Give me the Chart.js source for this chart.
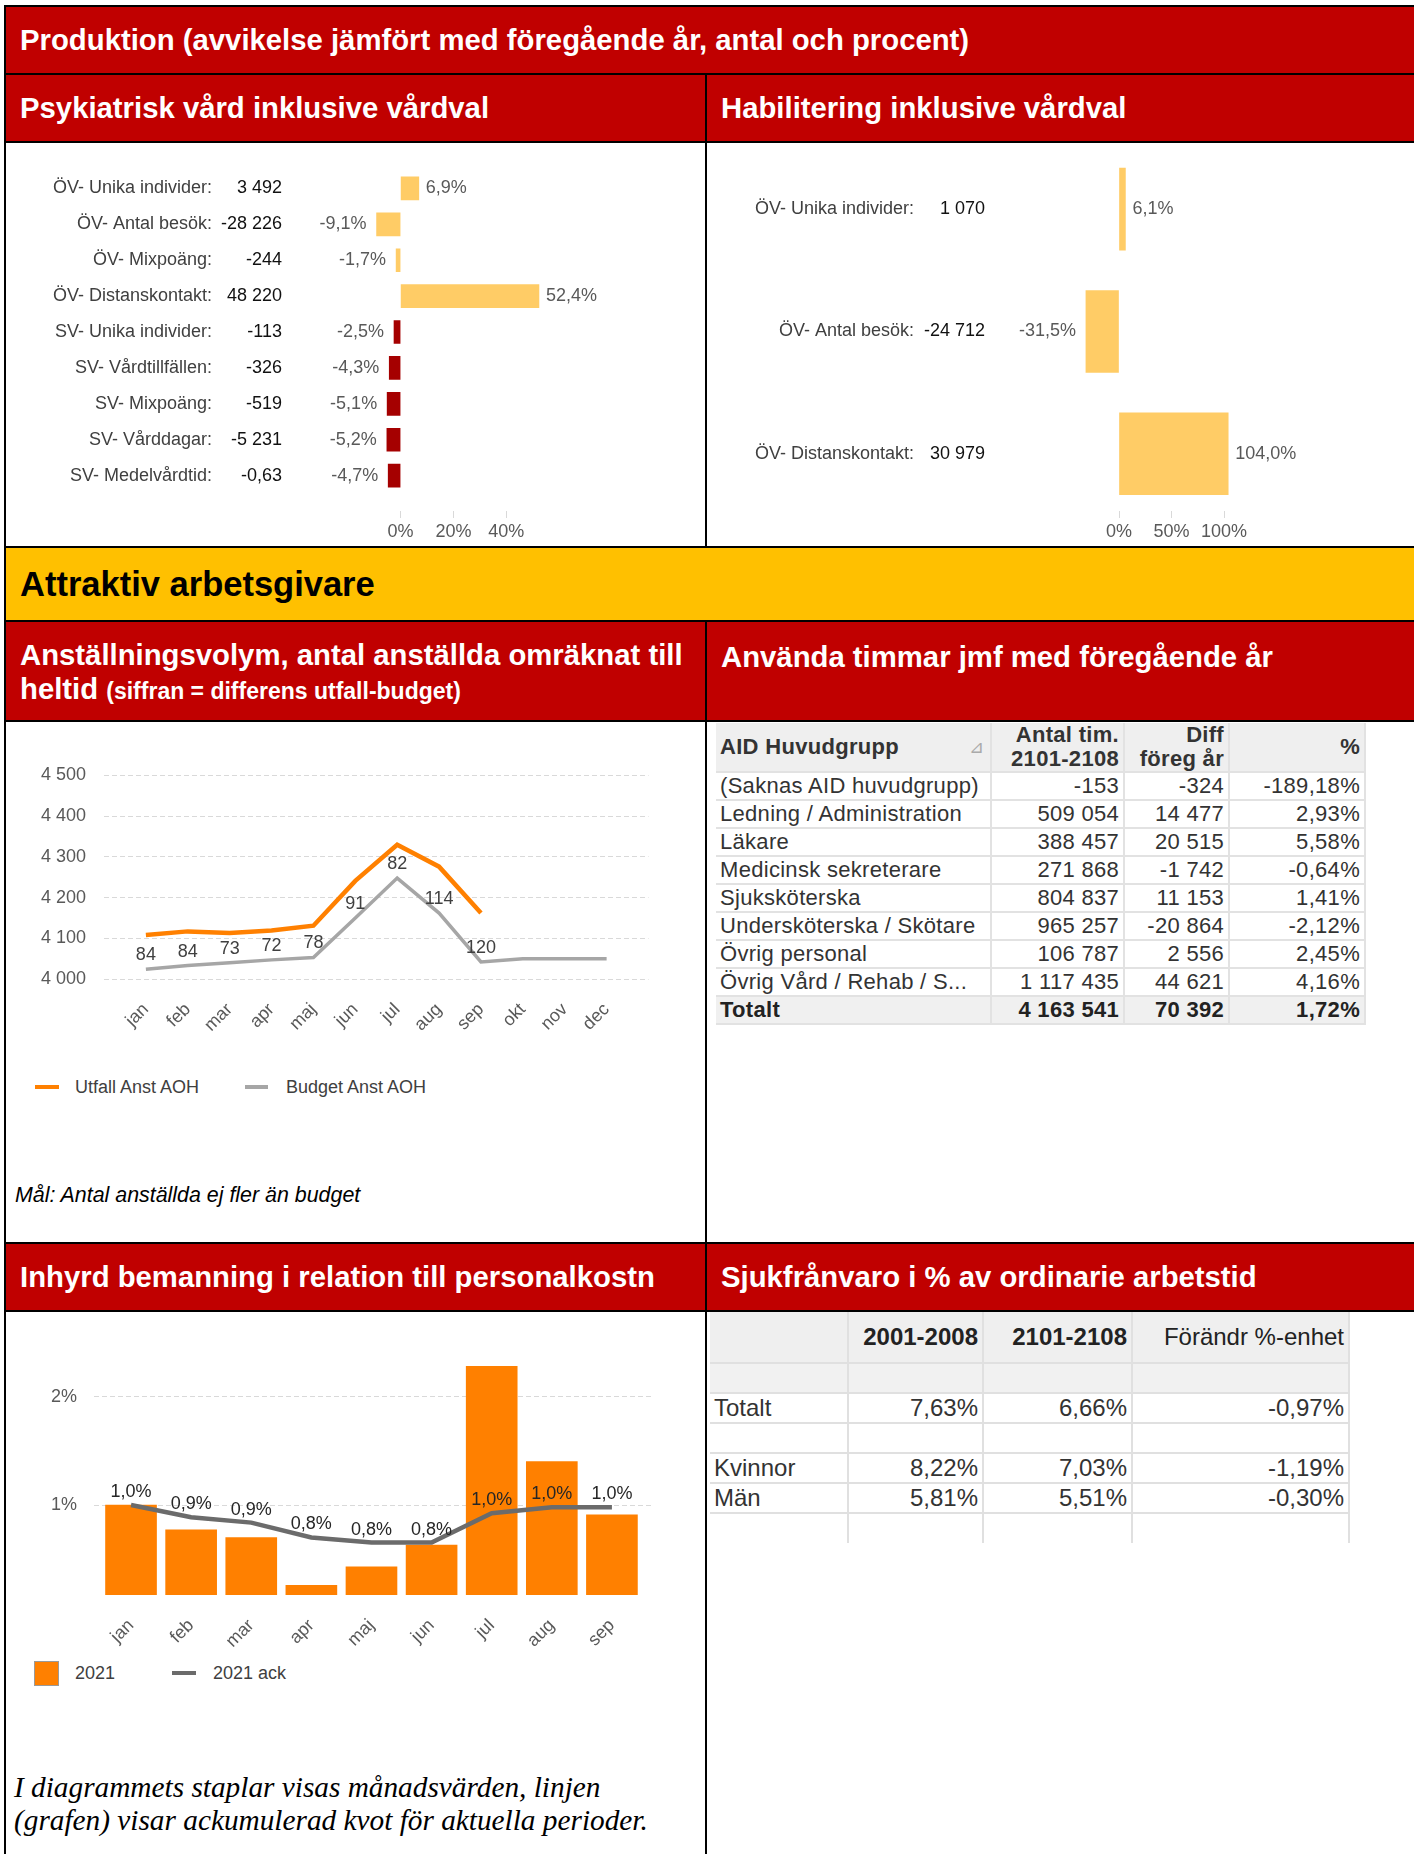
<!DOCTYPE html>
<html lang="sv">
<head>
<meta charset="utf-8">
<script src="https://cdn.jsdelivr.net/npm/chart.js@4.4.0/dist/chart.umd.min.js"></script>
<style>
body { margin: 0; width: 1414px; height: 1854px; position: relative; overflow: hidden; background: #fff; font-family: 'Liberation Sans', Arial, sans-serif; }
.abs { position: absolute; box-sizing: border-box; }
.ln { position: absolute; background: #000; }
.red { position: absolute; background: #c00000; color: #fff; font-weight: bold; font-size: 29.3px; line-height: 34px; padding-left: 14px; display: flex; align-items: center; box-sizing: border-box; white-space: nowrap; }
.yel { position: absolute; background: #ffc000; color: #000; font-weight: bold; font-size: 34.5px; padding-left: 14px; display: flex; align-items: center; box-sizing: border-box; }
canvas { position: absolute; }
.leg { position: absolute; font-size: 18px; color: #404040; line-height: 22px; white-space: nowrap; }
table { position: absolute; border-collapse: collapse; table-layout: fixed; color: #333; }
td, th { padding: 0 4px; white-space: nowrap; overflow: hidden; box-sizing: border-box; }
.t1 { font-size: 22px; letter-spacing: 0.3px; }
.t1 td, .t1 th { border-bottom: 2px solid #e2e2e2; border-right: 2px solid #e2e2e2; text-align: right; }
.t1 th { background: #efefef; line-height: 24px; font-weight: bold; height: 49px; }
.t1 td { height: 28px; line-height: 26px; }
.t1 td:first-child, .t1 th:first-child { text-align: left; }
.t1 tr.tot td { background: #f0f0f0; font-weight: bold; color: #222; }
.t2 { font-size: 24px; }
.t2 td, .t2 th { border-right: 2px solid #e0e0e0; border-bottom: 2px solid #e0e0e0; text-align: right; }
.t2 th { background: #efefef; height: 51px; color: #222; }
.t2 tr.grey td { background: #f1f1f1; }
.t2 td { height: 30px; line-height: 28px; }
.t2 td:first-child { text-align: left; }
.t2 tr.last td { border-bottom: none; }
</style>
</head>
<body>

<!-- frames -->
<div class="red" style="left:6px;top:7px;width:1408px;height:66px;">Produktion (avvikelse jämfört med föregående år, antal och procent)</div>
<div class="red" style="left:6px;top:75px;width:699px;height:66px;">Psykiatrisk vård inklusive vårdval</div>
<div class="red" style="left:707px;top:75px;width:707px;height:66px;">Habilitering inklusive vårdval</div>
<div class="yel" style="left:6px;top:548px;width:1408px;height:72px;">Attraktiv arbetsgivare</div>
<div class="red" style="left:6px;top:622px;width:699px;height:98px;display:block;padding-top:16px;">Anställningsvolym, antal anställda omräknat till<br>heltid <span style="font-size:23px;">(siffran = differens utfall-budget)</span></div>
<div class="red" style="left:707px;top:622px;width:707px;height:98px;display:block;padding-top:18px;">Använda timmar jmf med föregående år</div>
<div class="red" style="left:6px;top:1244px;width:699px;height:66px;">Inhyrd bemanning i relation till personalkostn</div>
<div class="red" style="left:707px;top:1244px;width:707px;height:66px;">Sjukfrånvaro i % av ordinarie arbetstid</div>

<div class="ln" style="left:4px;top:5px;width:1410px;height:2px;"></div>
<div class="ln" style="left:4px;top:5px;width:2px;height:1849px;"></div>
<div class="ln" style="left:4px;top:73px;width:1410px;height:2px;"></div>
<div class="ln" style="left:4px;top:141px;width:1410px;height:2px;"></div>
<div class="ln" style="left:705px;top:75px;width:2px;height:472px;"></div>
<div class="ln" style="left:4px;top:546px;width:1410px;height:2px;"></div>
<div class="ln" style="left:4px;top:620px;width:1410px;height:2px;"></div>
<div class="ln" style="left:4px;top:720px;width:1410px;height:2px;"></div>
<div class="ln" style="left:705px;top:622px;width:2px;height:1232px;"></div>
<div class="ln" style="left:4px;top:1242px;width:1410px;height:2px;"></div>
<div class="ln" style="left:4px;top:1310px;width:1410px;height:2px;"></div>

<canvas id="psyk" width="699" height="404" style="left:6px;top:143px;"></canvas>
<canvas id="hab" width="707" height="404" style="left:707px;top:143px;"></canvas>

<canvas id="volym" width="699" height="340" style="left:6px;top:722px;"></canvas>
<div id="volymLegend"></div>
<div class="leg" style="left:15px;top:1184px;font-size:21.4px;font-style:italic;color:#000;">Mål: Antal anställda ej fler än budget</div>

<table class="t1" id="timmar" style="left:716px;top:723px;width:649px;"></table>

<canvas id="inhyrd" width="699" height="340" style="left:6px;top:1312px;"></canvas>
<div id="inhyrdLegend"></div>
<div class="leg" style="left:14px;top:1771px;font-family:'Liberation Serif','Times New Roman',serif;font-style:italic;font-size:29.3px;line-height:33px;color:#000;">I diagrammets staplar visas månadsvärden, linjen<br>(grafen) visar ackumulerad kvot för aktuella perioder.</div>

<table class="t2" id="sjuk" style="left:710px;top:1312px;width:639px;"></table>

<script>
// Produktion
const psykNames = ['ÖV- Unika individer:', 'ÖV- Antal besök:', 'ÖV- Mixpoäng:', 'ÖV- Distanskontakt:', 'SV- Unika individer:', 'SV- Vårdtillfällen:', 'SV- Mixpoäng:', 'SV- Vårddagar:', 'SV- Medelvårdtid:'];
const psykCounts = [3492, -28226, -244, 48220, -113, -326, -519, -5231, -0.63];
const psykPct = [6.9, -9.1, -1.7, 52.4, -2.5, -4.3, -5.1, -5.2, -4.7];
const psykTicks = [0, 20, 40];

const habNames = ['ÖV- Unika individer:', 'ÖV- Antal besök:', 'ÖV- Distanskontakt:'];
const habCounts = [1070, -24712, 30979];
const habPct = [6.1, -31.5, 104.0];
const habTicks = [0, 50, 100];

// Anställningsvolym
const months = ['jan', 'feb', 'mar', 'apr', 'maj', 'jun', 'jul', 'aug', 'sep', 'okt', 'nov', 'dec'];
const utfall = [4108, 4117, 4113, 4119, 4131, 4241, 4330, 4276, 4162];
const budget = [4024, 4033, 4040, 4047, 4053, 4150, 4248, 4162, 4042, 4050, 4050, 4050];
const diffLabels = [84, 84, 73, 72, 78, 91, 82, 114, 120];
const volymTicks = [4000, 4100, 4200, 4300, 4400, 4500];

// Inhyrd bemanning
const inhyrdMonths = ['jan', 'feb', 'mar', 'apr', 'maj', 'jun', 'jul', 'aug', 'sep'];
const inhyrd2021 = [1.00, 0.77, 0.70, 0.26, 0.43, 0.63, 2.28, 1.40, 0.91];
const inhyrdAck = [1.00, 0.935, 0.906, 0.827, 0.80, 0.80, 0.956, 0.988, 0.988];
const inhyrdTicks = [1, 2];

// Använda timmar
const aidGroups = ['(Saknas AID huvudgrupp)', 'Ledning / Administration', 'Läkare', 'Medicinsk sekreterare', 'Sjuksköterska', 'Undersköterska / Skötare', 'Övrig personal', 'Övrig Vård / Rehab / S...', 'Totalt'];
const aidHours = [-153, 509054, 388457, 271868, 804837, 965257, 106787, 1117435, 4163541];
const aidDiff = [-324, 14477, 20515, -1742, 11153, -20864, 2556, 44621, 70392];
const aidPct = [-189.18, 2.93, 5.58, -0.64, 1.41, -2.12, 2.45, 4.16, 1.72];

// Sjukfrånvaro
const sjukPeriods = ['2001-2008', '2101-2108', 'Förändr %-enhet'];
const sjukRows = ['Totalt', 'Kvinnor', 'Män'];
const sjukPrev = [7.63, 8.22, 5.81];
const sjukCurr = [6.66, 7.03, 5.51];
const sjukChange = [-0.97, -1.19, -0.30];

const FONT = "'Liberation Sans', Arial, sans-serif";
Chart.defaults.font.family = FONT;
Chart.defaults.font.size = 18;
Chart.defaults.color = '#595959';
Chart.defaults.animation = false;
Chart.defaults.plugins.legend.display = false;
Chart.defaults.plugins.tooltip.enabled = false;

const ORANGE = '#ff8000';
const fmtNum = (n, dec = 0) => {
    const parts = Math.abs(n).toFixed(dec).split('.');
    const int = parts[0].replace(/\B(?=(\d{3})+(?!\d))/g, ' ');
    return (n < 0 ? '-' : '') + int + (parts[1] ? ',' + parts[1] : '');
};
const fmtPct = (v, dec) => fmtNum(v, dec) + '%';

function rowText(names, counts, pct, nameX, countX) {
    return {
        id: 'rowText', afterDatasetsDraw(c) {
            const { ctx, scales: { x, y } } = c;
            ctx.save();
            ctx.font = '18px ' + FONT;
            ctx.textBaseline = 'middle';
            names.forEach((name, i) => {
                const py = y.getPixelForValue(i);
                ctx.textAlign = 'right';
                ctx.fillStyle = '#404040';
                ctx.fillText(name, nameX, py);
                ctx.fillStyle = '#111';
                ctx.fillText(fmtNum(counts[i], Number.isInteger(counts[i]) ? 0 : 2), countX, py);
                const v = pct[i], px = x.getPixelForValue(v);
                ctx.fillStyle = '#595959';
                ctx.textAlign = v < 0 ? 'right' : 'left';
                ctx.fillText(fmtPct(v, 1), v < 0 ? px - 10 : px + 7, py);
            });
            ctx.restore();
        }
    };
}

function prodChart(id, names, counts, pct, ticks, o) {
    new Chart(document.getElementById(id), {
        type: 'bar',
        data: {
            datasets: [{
                data: pct.map((v, i) => ({ x: v, y: i })),
                backgroundColor: names.map(n => n.startsWith('SV') ? '#a50000' : '#ffcc66'),
                barThickness: o.bar
            }]
        },
        options: {
            indexAxis: 'y', responsive: false, devicePixelRatio: 1,
            layout: { padding: { left: o.left, right: o.right, top: o.top, bottom: 0 } },
            scales: {
                x: {
                    type: 'linear', min: o.min, max: o.max, offset: false,
                    afterBuildTicks: s => { s.ticks = ticks.map(v => ({ value: v })); },
                    afterFit: s => { s.height = 36; },
                    ticks: { callback: v => v + '%', padding: 3 },
                    grid: { drawOnChartArea: false, tickLength: 7, color: '#d9d9d9' },
                    border: { display: false }
                },
                y: { type: 'linear', reverse: true, min: -0.5, max: o.ymax, offset: false, display: false }
            }
        },
        plugins: [rowText(names, counts, pct, o.nameX, o.countX)]
    });
}

prodChart('psyk', psykNames, psykCounts, psykPct, psykTicks,
    { min: -40, max: 60, left: 289, right: 146, top: 27.5, ymax: 8.985, bar: 23, nameX: 206, countX: 276 });
prodChart('hab', habNames, habCounts, habPct, habTicks,
    { min: -50, max: 150, left: 359.5, right: 137.5, top: 5, ymax: 2.468, bar: 82, nameX: 207, countX: 278 });

// Anställningsvolym
const diffText = {
    id: 'diffText', afterDatasetsDraw(c) {
        const { ctx, scales: { x, y } } = c;
        ctx.save();
        ctx.font = '18px ' + FONT;
        ctx.fillStyle = '#404040';
        ctx.textAlign = 'center';
        ctx.textBaseline = 'middle';
        diffLabels.forEach((d, i) => ctx.fillText(d, x.getPixelForValue(i), y.getPixelForValue(budget[i]) - 14));
        ctx.restore();
    }
};
new Chart(document.getElementById('volym'), {
    type: 'line',
    data: {
        datasets: [
            { label: 'Utfall Anst AOH', data: utfall.map((v, i) => ({ x: i, y: v })), borderColor: ORANGE, borderWidth: 4.5, pointRadius: 0 },
            { label: 'Budget Anst AOH', data: budget.map((v, i) => ({ x: i, y: v })), borderColor: '#a6a6a6', borderWidth: 3.5, pointRadius: 0 }
        ]
    },
    options: {
        responsive: false, devicePixelRatio: 1,
        layout: { padding: { left: 0, right: 56.5, top: 53.5, bottom: 0 } },
        scales: {
            x: {
                type: 'linear', min: -1, max: 12,
                afterBuildTicks: s => { s.ticks = months.map((m, i) => ({ value: i })); },
                afterFit: s => { s.height = 83; },
                ticks: { callback: v => months[v], minRotation: 45, maxRotation: 45, padding: 20, autoSkip: false },
                grid: { display: false, drawTicks: false }, border: { display: false }
            },
            y: {
                min: 4000, max: 4500,
                afterBuildTicks: s => { s.ticks = volymTicks.map(v => ({ value: v })); },
                afterFit: s => { s.width = 98; },
                ticks: { callback: v => fmtNum(v), padding: 18 },
                grid: { color: '#d9d9d9', drawTicks: false },
                border: { display: false, dash: [5, 3] }
            }
        }
    },
    plugins: [diffText]
});

// Inhyrd bemanning
const ackText = {
    id: 'ackText', afterDatasetsDraw(c) {
        const { ctx, scales: { x, y2 } } = c;
        ctx.save();
        ctx.font = '18px ' + FONT;
        ctx.fillStyle = '#262626';
        ctx.textAlign = 'center';
        ctx.textBaseline = 'middle';
        inhyrdAck.forEach((v, i) => ctx.fillText(fmtPct(v, 1), x.getPixelForValue(i), y2.getPixelForValue(v) - 13));
        ctx.restore();
    }
};
new Chart(document.getElementById('inhyrd'), {
    type: 'bar',
    data: {
        datasets: [
            { type: 'line', label: '2021 ack', data: inhyrdAck.map((v, i) => ({ x: i, y: v })), yAxisID: 'y2', borderColor: '#6b6b6b', borderWidth: 4.5, pointRadius: 0, order: 0 },
            { type: 'bar', label: '2021', data: inhyrd2021.map((v, i) => ({ x: i, y: v })), backgroundColor: ORANGE, barThickness: 51, order: 1 }
        ]
    },
    options: {
        responsive: false, devicePixelRatio: 1,
        layout: { padding: { left: 0, right: 54, top: 35.8, bottom: 0 } },
        scales: {
            x: {
                type: 'linear', min: -0.616, max: 8.65, offset: false,
                afterBuildTicks: s => { s.ticks = inhyrdMonths.map((m, i) => ({ value: i })); },
                afterFit: s => { s.height = 57; },
                ticks: { callback: v => inhyrdMonths[v], minRotation: 45, maxRotation: 45, padding: 20, autoSkip: false },
                grid: { display: false, drawTicks: false }, border: { display: false }
            },
            y: {
                min: 0.17, max: 2.45,
                afterBuildTicks: s => { s.ticks = inhyrdTicks.map(v => ({ value: v })); },
                afterFit: s => { s.width = 88; },
                ticks: { callback: v => v + '%', padding: 17 },
                grid: { color: '#d9d9d9', drawTicks: false },
                border: { display: false, dash: [5, 3] }
            },
            y2: { display: false, min: 0.521, max: 1.836 }
        }
    },
    plugins: [ackText]
});

// legends
function legend(el, items) {
    el.innerHTML = items.map(it =>
        `<div class="abs" style="left:${it.sx}px;top:${it.sy}px;width:${it.sw}px;height:${it.sh}px;background:${it.color};${it.border || ''}"></div>` +
        `<div class="leg" style="left:${it.tx}px;top:${it.ty}px;">${it.text}</div>`).join('');
}
legend(document.getElementById('volymLegend'), [
    { text: 'Utfall Anst AOH', color: ORANGE, sx: 35, sy: 1085, sw: 24, sh: 4, tx: 75, ty: 1076 },
    { text: 'Budget Anst AOH', color: '#a6a6a6', sx: 245, sy: 1085, sw: 23, sh: 4, tx: 286, ty: 1076 }
]);
legend(document.getElementById('inhyrdLegend'), [
    { text: '2021', color: ORANGE, sx: 34, sy: 1661, sw: 25, sh: 25, border: 'border:1px solid #9a9a9a;', tx: 75, ty: 1662 },
    { text: '2021 ack', color: '#6b6b6b', sx: 172, sy: 1671, sw: 24, sh: 4, tx: 213, ty: 1662 }
]);

// tables
const t1 = document.getElementById('timmar');
t1.innerHTML = '<colgroup><col style="width:275px"><col style="width:133px"><col style="width:105px"><col style="width:136px"></colgroup>' +
    '<tr><th style="position:relative">AID Huvudgrupp<span style="position:absolute;right:6px;top:12px;color:#aaa;font-weight:normal;font-size:18px;">⊿</span></th><th>Antal tim.<br>2101-2108</th><th>Diff<br>föreg år</th><th>%</th></tr>' +
    aidGroups.map((g, i) => `<tr class="${g === 'Totalt' ? 'tot' : ''}"><td>${g}</td><td>${fmtNum(aidHours[i])}</td><td>${fmtNum(aidDiff[i])}</td><td>${fmtPct(aidPct[i], 2)}</td></tr>`).join('');

const t2 = document.getElementById('sjuk');
const cells = (a, b, c, d) => `<td>${a}</td><td>${b}</td><td>${c}</td><td>${d}</td>`;
t2.innerHTML = '<colgroup><col style="width:138px"><col style="width:135px"><col style="width:149px"><col style="width:217px"></colgroup>' +
    `<tr><th></th><th>${sjukPeriods[0]}</th><th>${sjukPeriods[1]}</th><th style="font-weight:normal">${sjukPeriods[2]}</th></tr>` +
    `<tr class="grey">${cells('', '', '', '')}</tr>` +
    `<tr>${cells(sjukRows[0], fmtPct(sjukPrev[0], 2), fmtPct(sjukCurr[0], 2), fmtPct(sjukChange[0], 2))}</tr>` +
    `<tr>${cells('', '', '', '')}</tr>` +
    sjukRows.slice(1).map((r, k) => `<tr>${cells(r, fmtPct(sjukPrev[k + 1], 2), fmtPct(sjukCurr[k + 1], 2), fmtPct(sjukChange[k + 1], 2))}</tr>`).join('') +
    `<tr class="last">${cells('', '', '', '')}</tr>`;
</script>
</body>
</html>
